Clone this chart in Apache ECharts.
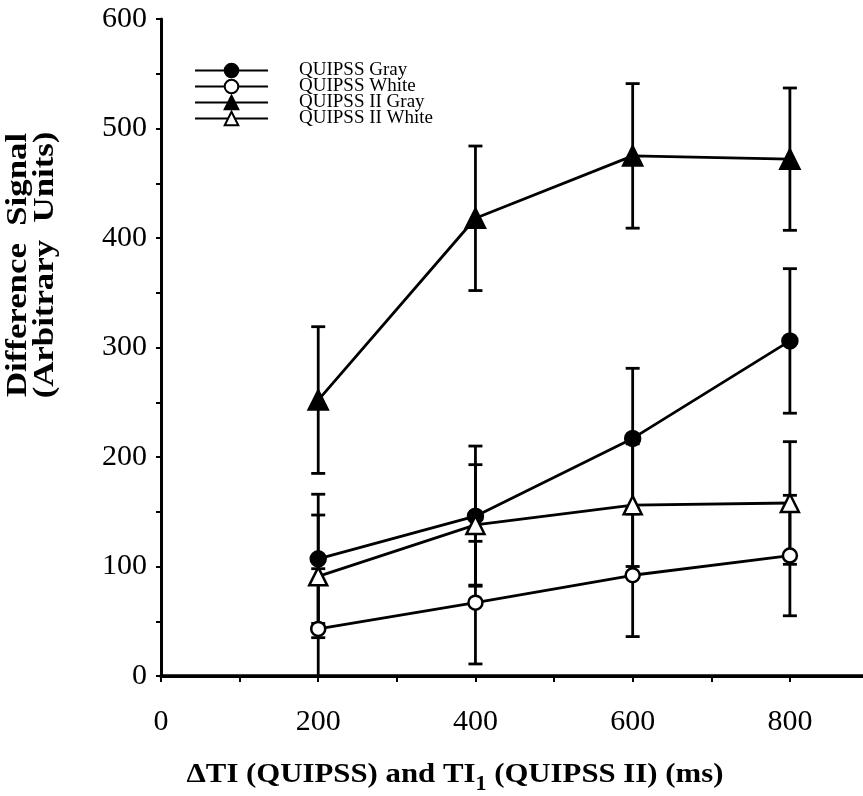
<!DOCTYPE html>
<html>
<head>
<meta charset="utf-8">
<script src="https://cdn.jsdelivr.net/npm/echarts@6/dist/echarts.min.js"></script>
<style>
html,body{margin:0;padding:0;background:#fff;}
#chart{width:863px;height:796px;}
</style>
</head>
<body>
<div id="chart"></div>
<script>
// ---- data ----
var xValues = [200, 400, 600, 800];
var seriesNames = ['QUIPSS Gray', 'QUIPSS White', 'QUIPSS II Gray', 'QUIPSS II White'];
var quipssGray = [107, 146, 217, 306];
var quipssGrayErr = [59, 64, 64, 66];
var quipssWhite = [43, 67, 92, 110];
var quipssWhiteErr = [55, 56, 56, 55];
var quipss2Gray = [252, 418, 475, 472];
var quipss2GrayErr = [67, 66, 66, 65];
var quipss2White = [91, 138, 156, 158];
var quipss2WhiteErr = [56, 55, 56, 56];
var xTickLabels = [0, 200, 400, 600, 800];
var yTickLabels = [0, 100, 200, 300, 400, 500, 600];

var FONT = 'Liberation Serif';
var chart = echarts.init(document.getElementById('chart'));

function pts(vals) { return xValues.map(function (x, i) { return [x, vals[i]]; }); }
function errData(vals, errs) { return xValues.map(function (x, i) { return [x, vals[i] - errs[i], vals[i] + errs[i]]; }); }

function errRender(params, api) {
  var x = api.value(0);
  var lo = api.coord([x, api.value(1)]);
  var hi = api.coord([x, api.value(2)]);
  var h = 7;
  var st = { stroke: '#000', lineWidth: 2.8 };
  return {
    type: 'group',
    children: [
      { type: 'line', shape: { x1: lo[0], y1: lo[1], x2: hi[0], y2: hi[1] }, style: st },
      { type: 'line', shape: { x1: hi[0] - h, y1: hi[1], x2: hi[0] + h, y2: hi[1] }, style: st },
      { type: 'line', shape: { x1: lo[0] - h, y1: lo[1], x2: lo[0] + h, y2: lo[1] }, style: st }
    ]
  };
}

function errSeries(vals, errs) {
  return {
    type: 'custom', renderItem: errRender, data: errData(vals, errs),
    encode: { x: 0, y: [1, 2] }, clip: true, z: 1, silent: true
  };
}

function lineSeries(name, vals, symbol, filled, size) {
  return {
    name: name, type: 'line', data: pts(vals), symbol: symbol, symbolSize: size,
    showAllSymbol: true, z: 3,
    lineStyle: { color: '#000', width: 2.8 },
    itemStyle: { color: filled ? '#000' : '#fff', borderColor: '#000', borderWidth: 2.5, opacity: 1 },
    emphasis: { disabled: true }
  };
}

var option = {
  animation: false,
  backgroundColor: '#fff',
  grid: { left: 161, right: 0, top: 19, bottom: 120, containLabel: false },
  legend: {
    data: seriesNames,
    orient: 'vertical', left: 189, top: 56,
    itemWidth: 73, itemHeight: 17, itemGap: -3,
    textStyle: { fontFamily: FONT, fontSize: 19, color: '#000', padding: [0, 0, 0, 26] },
    selectedMode: false
  },
  xAxis: [{
    type: 'value', min: 0, max: 893, interval: 100,
    axisLine: { show: true, onZero: false, lineStyle: { color: '#000', width: 3.5 } },
    axisTick: { show: true, inside: false, length: 6, lineStyle: { color: '#000', width: 2 } },
    splitLine: { show: false },
    axisLabel: {
      fontFamily: FONT, fontSize: 30, color: '#000', margin: 31,
      showMaxLabel: false,
      formatter: function (v) { return xTickLabels.indexOf(v) >= 0 ? String(v) : ''; }
    }
  }, {
    type: 'value', position: 'top', min: 0, max: 893,
    axisLine: { show: true, lineStyle: { color: '#000', width: 3 } },
    axisTick: { show: false }, axisLabel: { show: false }, splitLine: { show: false }
  }],
  yAxis: {
    type: 'value', min: 0, max: 600, interval: 50,
    axisLine: { show: true, lineStyle: { color: '#000', width: 3 } },
    axisTick: { show: true, inside: false, length: 5, lineStyle: { color: '#000', width: 2 } },
    splitLine: { show: false },
    axisLabel: {
      fontFamily: FONT, fontSize: 30, color: '#000', margin: 14,
      formatter: function (v) { return yTickLabels.indexOf(v) >= 0 ? String(v) : ''; }
    }
  },
  graphic: [
    {
      type: 'text', x: 32, y: 265, rotation: Math.PI / 2, scaleX: 1.2,
      style: {
        text: 'Difference  Signal\n(Arbitrary  Units)',
        font: 'bold 29px "Liberation Serif"', fill: '#000',
        textAlign: 'center', verticalAlign: 'middle', lineHeight: 27
      }
    },
    {
      type: 'text', x: 455, y: 775, scaleX: 1.1,
      style: {
        text: '{a|\u0394TI (QUIPSS) and TI}{s|1}{a| (QUIPSS II) (ms)}',
        rich: {
          a: { fontFamily: FONT, fontWeight: 'bold', fontSize: 28, fill: '#000', color: '#000' },
          s: { fontFamily: FONT, fontWeight: 'bold', fontSize: 20, fill: '#000', color: '#000', padding: [20, 0, 0, 0] }
        },
        textAlign: 'center', verticalAlign: 'middle'
      }
    }
  ],
  series: [
    errSeries(quipssGray, quipssGrayErr),
    errSeries(quipssWhite, quipssWhiteErr),
    errSeries(quipss2Gray, quipss2GrayErr),
    errSeries(quipss2White, quipss2WhiteErr),
    lineSeries(seriesNames[0], quipssGray, 'circle', true, 15),
    lineSeries(seriesNames[1], quipssWhite, 'circle', false, 14),
    lineSeries(seriesNames[2], quipss2Gray, 'triangle', true, 19),
    lineSeries(seriesNames[3], quipss2White, 'triangle', false, 18)
  ]
};
chart.setOption(option);
</script>
</body>
</html>
